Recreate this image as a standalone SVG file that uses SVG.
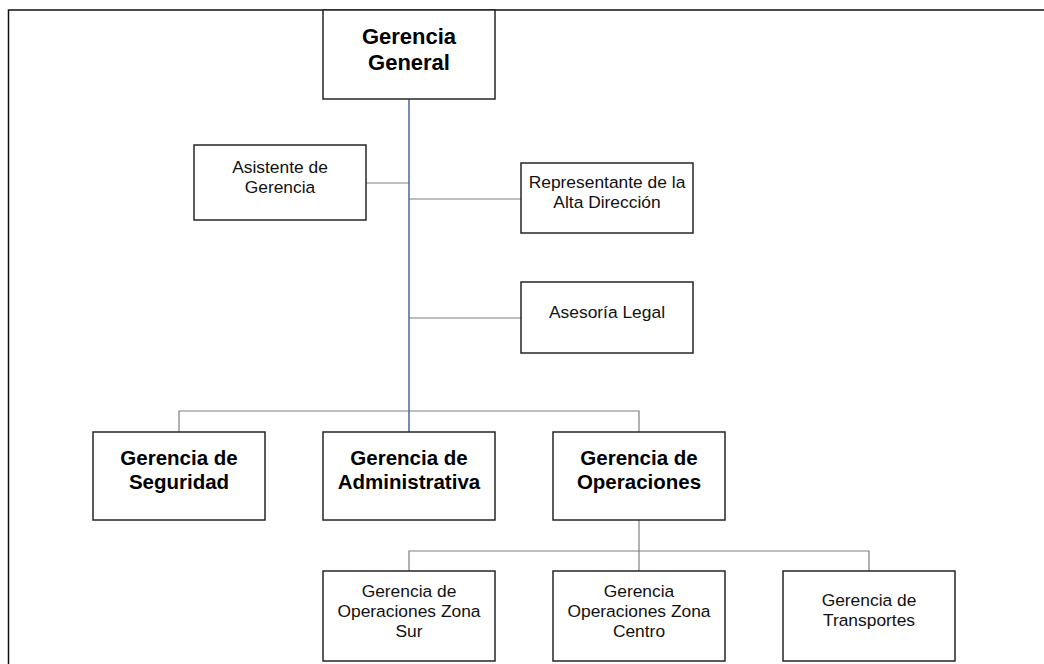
<svg xmlns="http://www.w3.org/2000/svg" width="1044" height="664" viewBox="0 0 1044 664">
<style>
.box{fill:#fff;stroke:#262626;stroke-width:1.5}
.t{font-family:"Liberation Sans",Arial,sans-serif;font-size:17.4px;fill:#111;text-anchor:middle}
.b{font-family:"Liberation Sans",Arial,sans-serif;font-size:20.5px;font-weight:bold;fill:#000;text-anchor:middle}
.bt{font-size:22px}
.c{fill:none;stroke:#7f7f7f;stroke-width:1.2}
.m{fill:none;stroke:#4a6796;stroke-width:1.5}
</style>
<rect width="1044" height="664" fill="#fff"/>
<path d="M8.5,664 V10 H1044" fill="none" stroke="#111" stroke-width="1.5"/>
<g id="connectors">
<path class="c" d="M366,183 H409"/>
<path class="c" d="M409,199 H521"/>
<path class="c" d="M409,318 H521"/>
<path class="c" d="M179,432 V411 H639 V432"/>
<path class="c" d="M639,520 V571"/>
<path class="c" d="M409,571 V551 H869 V571"/>
<path class="m" d="M409,99 V432"/>
</g>
<g id="gerencia-general"><rect class="box" x="323" y="10" width="172" height="89"/><text class="b bt"><tspan x="409" y="44">Gerencia</tspan><tspan x="409" y="70">General</tspan></text></g>
<g id="asistente"><rect class="box" x="194" y="145" width="172" height="75"/><text class="t"><tspan x="280" y="173">Asistente de</tspan><tspan x="280" y="193">Gerencia</tspan></text></g>
<g id="representante"><rect class="box" x="521" y="163" width="172" height="70"/><text class="t"><tspan x="607" y="188">Representante de la</tspan><tspan x="607" y="208">Alta Dirección</tspan></text></g>
<g id="asesoria"><rect class="box" x="521" y="282" width="172" height="71"/><text class="t" x="607" y="318">Asesoría Legal</text></g>
<g id="seguridad"><rect class="box" x="93" y="432" width="172" height="88"/><text class="b"><tspan x="179" y="465">Gerencia de</tspan><tspan x="179" y="489">Seguridad</tspan></text></g>
<g id="administrativa"><rect class="box" x="323" y="432" width="172" height="88"/><text class="b"><tspan x="409" y="465">Gerencia de</tspan><tspan x="409" y="489">Administrativa</tspan></text></g>
<g id="operaciones"><rect class="box" x="553" y="432" width="172" height="88"/><text class="b"><tspan x="639" y="465">Gerencia de</tspan><tspan x="639" y="489">Operaciones</tspan></text></g>
<g id="zona-sur"><rect class="box" x="323" y="571" width="172" height="90"/><text class="t"><tspan x="409" y="597">Gerencia de</tspan><tspan x="409" y="617">Operaciones Zona</tspan><tspan x="409" y="637">Sur</tspan></text></g>
<g id="zona-centro"><rect class="box" x="553" y="571" width="172" height="90"/><text class="t"><tspan x="639" y="597">Gerencia</tspan><tspan x="639" y="617">Operaciones Zona</tspan><tspan x="639" y="637">Centro</tspan></text></g>
<g id="transportes"><rect class="box" x="783" y="571" width="172" height="90"/><text class="t"><tspan x="869" y="606">Gerencia de</tspan><tspan x="869" y="626">Transportes</tspan></text></g>
</svg>
